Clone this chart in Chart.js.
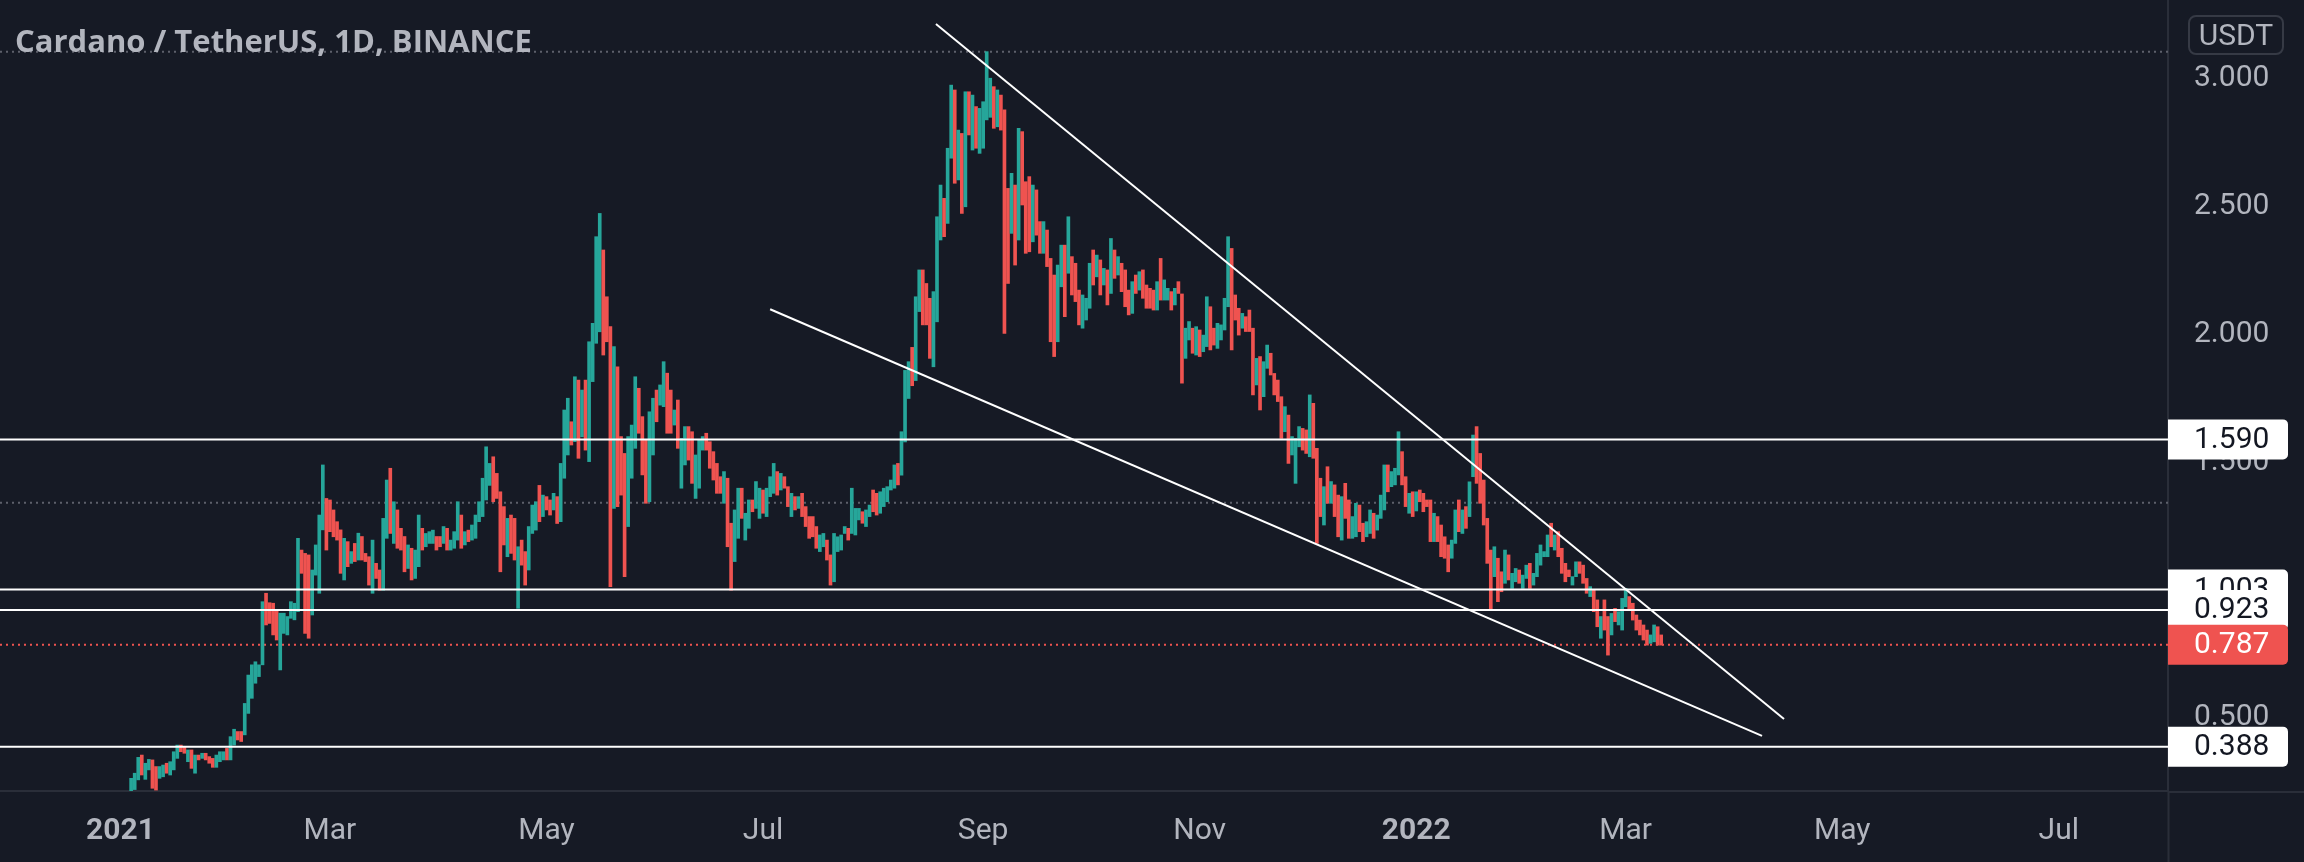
<!DOCTYPE html>
<html>
<head>
<meta charset="utf-8">
<title>Cardano / TetherUS, 1D, BINANCE</title>
<script src="https://cdn.jsdelivr.net/npm/chart.js@4.4.0/dist/chart.umd.min.js"></script>
<style>
  html, body { margin: 0; padding: 0; background: #161a25; }
  #wrap { position: relative; width: 2304px; height: 862px; overflow: hidden; }
  #title { position: absolute; left: 15px; top: 25px; font: 700 31px/1 "Open Sans", sans-serif; color: #b2b5be; white-space: nowrap; }
  #unit { position: absolute; left: 2188px; top: 15px; width: 92px; height: 36px; border: 2px solid #363a45; border-radius: 8px;
          font: 30px/36px Roboto, sans-serif; color: #b2b5be; text-align: center; }
</style>
</head>
<body>
<div id="wrap">
  <canvas id="chart" width="2304" height="862"></canvas>
  <div id="title">Cardano / TetherUS, 1D, BINANCE</div>
  <div id="unit">USDT</div>
</div>
<script>
// daily bars from 2021-01-01, one per day (index = days since start)
const startDate = '2021-01-01';

// G = close above open (green), R = close below open (red)
const dirs =
  'GGGGGGRGGR' + 'RGGRGGGRRG' + 'RGRGRRRGGG' + 'RGGRRGGGGG' + 'GRRRRGGGGG' +
  'GRRRGGGGRR' + 'RRRGRGRGRR' + 'RGRRGGRGRR' + 'RGRGGRGGGR' + 'RGRGGGRGRG' +
  'GGGGGRRRRG' + 'RRGRRGGGRG' + 'RRGRGGGRGR' + 'GRGGGGRRRG' + 'RRRGGGRRRG' +
  'GRGGRRGRGG' + 'RRGGGRRRRR' + 'GRRGGRGGRG' + 'GRGGGRGRRG' + 'RGRRRRRGGR' +
  'RGGGGRGGGR' + 'GGRRGGGGGR' + 'GGGRGGRRRG' + 'GGRGGRGRGR' + 'GRGGGGRGRR' +
  'RGRGRRRGRR' + 'GRRRGGRGRR' + 'RGGGRGRGRG' + 'RGRRRGRGRR' + 'RRGRGGRGRR' +
  'GGRGRGGRRG' + 'GGGRRRGRRR' + 'GRGGRRRRGR' + 'GGGRRGRRRG' + 'RGRRGRRGGR' +
  'RGGRGGGRGG' + 'GRRGRGRRRR' + 'GRRRRGGRGR' + 'GGRRRRRGRR' + 'GRGGRGGRGG' +
  'GGGRGRRRRG' + 'GRRRGRRGRR' + 'GRGGGRRRRR' + 'RGGRR';

const highs = [
  .184,.19,.212,.264,.284,.346,.355,.323,.338,.336,
  .31,.31,.316,.323,.329,.368,.394,.394,.388,.375,
  .375,.355,.355,.362,.362,.349,.342,.355,.368,.368,
  .381,.427,.456,.447,.447,.557,.668,.708,.72,.708,
  .955,.988,.951,.949,.923,.91,.91,.897,.955,.949,
  1.203,1.157,1.144,1.138,1.079,1.177,1.294,1.49,1.359,1.353,
  1.314,1.268,1.236,1.203,1.19,1.151,1.183,1.223,1.21,1.144,
  1.131,1.196,1.105,1.079,1.281,1.431,1.477,1.346,1.314,1.242,
  1.21,1.177,1.164,1.157,1.294,1.242,1.222,1.229,1.235,1.21,
  1.21,1.249,1.242,1.196,1.229,1.346,1.294,1.229,1.235,1.255,
  1.294,1.346,1.438,1.561,1.496,1.522,1.457,1.385,1.327,1.281,
  1.294,1.281,1.17,1.196,1.151,1.249,1.333,1.346,1.41,1.372,
  1.366,1.353,1.379,1.366,1.496,1.705,1.751,1.659,1.835,1.822,
  1.783,1.822,1.972,2.044,2.383,2.474,2.331,2.148,2.031,1.953,
  1.874,1.601,1.535,1.601,1.646,1.835,1.79,1.679,1.588,1.698,
  1.751,1.783,1.803,1.894,1.849,1.783,1.705,1.744,1.594,1.64,
  1.64,1.62,1.529,1.588,1.601,1.614,1.581,1.542,1.496,1.444,
  1.464,1.438,1.262,1.314,1.399,1.399,1.301,1.353,1.353,1.425,
  1.399,1.392,1.399,1.444,1.496,1.464,1.457,1.444,1.405,1.379,
  1.366,1.366,1.379,1.327,1.288,1.288,1.249,1.216,1.222,1.196,
  1.138,1.222,1.209,1.216,1.249,1.242,1.399,1.32,1.32,1.307,
  1.314,1.333,1.392,1.379,1.385,1.399,1.405,1.431,1.49,1.496,
  1.62,1.86,1.894,1.95,2.148,2.253,2.253,2.2,2.142,2.168,
  2.461,2.585,2.533,2.729,2.976,2.957,2.80,2.787,2.95,2.95,
  2.937,2.892,2.885,2.911,3.107,3.003,2.97,2.957,2.937,2.879,
  2.572,2.631,2.585,2.807,2.794,2.598,2.618,2.585,2.566,2.442,
  2.442,2.409,2.298,2.233,2.272,2.35,2.35,2.461,2.305,2.279,
  2.174,2.155,2.142,2.279,2.331,2.311,2.292,2.259,2.253,2.376,
  2.331,2.305,2.279,2.253,2.174,2.207,2.233,2.246,2.253,2.194,
  2.181,2.174,2.207,2.298,2.214,2.181,2.168,2.181,2.207,2.159,
  2.025,2.051,2.025,2.031,2.018,1.998,2.148,2.109,2.025,2.044,
  2.038,2.142,2.383,2.337,2.155,2.103,2.083,2.07,2.096,2.025,
  1.907,1.914,1.894,1.959,1.927,1.848,1.822,1.757,1.718,1.685,
  1.601,1.594,1.64,1.633,1.627,1.764,1.731,1.555,1.438,1.405,
  1.483,1.425,1.412,1.372,1.366,1.418,1.353,1.288,1.34,1.333,
  1.262,1.268,1.314,1.301,1.294,1.372,1.49,1.49,1.464,1.477,
  1.62,1.542,1.444,1.379,1.385,1.385,1.392,1.379,1.353,1.353,
  1.301,1.288,1.255,1.209,1.177,1.196,1.314,1.353,1.314,1.327,
  1.424,1.607,1.64,1.535,1.431,1.281,1.157,1.17,1.125,1.072,
  1.157,1.138,1.066,1.085,1.079,1.059,1.098,1.105,1.066,1.144,
  1.177,1.151,1.216,1.262,1.216,1.229,1.164,1.105,1.079,1.053,
  1.111,1.111,1.098,1.046,1.014,1.001,.962,.897,.962,.897,
  .909,.929,.916,.968,1.007,.975,.949,.903,.883,.864,
  .844,.825,.864,.857,.825
];

const lows = [
  .171,.172,.18,.20,.22,.258,.277,.26,.297,.225,
  .218,.264,.27,.284,.277,.297,.342,.368,.362,.329,
  .303,.284,.336,.342,.336,.323,.307,.307,.329,.336,
  .336,.336,.394,.414,.408,.434,.518,.577,.636,.662,
  .708,.864,.87,.825,.805,.688,.831,.825,.89,.884,
  .916,1.066,.831,.812,.903,1.059,.988,1.236,1.157,1.229,
  1.209,1.196,1.066,1.04,1.092,1.105,1.112,1.118,1.118,1.112,
  1.02,.988,1.046,1.0,1.0,1.203,1.222,1.183,1.164,1.157,
  1.072,1.085,1.04,1.046,1.092,1.157,1.17,1.183,1.183,1.157,
  1.17,1.183,1.157,1.157,1.164,1.196,1.164,1.177,1.19,1.196,
  1.203,1.268,1.288,1.353,1.41,1.346,1.359,1.072,1.177,1.131,
  1.144,1.118,.929,1.098,1.02,1.079,1.222,1.235,1.268,1.288,
  1.314,1.294,1.314,1.261,1.268,1.438,1.529,1.568,1.581,1.516,
  1.6,1.548,1.503,1.816,1.966,2.011,1.92,1.972,1.014,1.32,
  1.327,1.372,1.053,1.249,1.438,1.555,1.614,1.451,1.34,1.346,
  1.529,1.659,1.724,1.718,1.614,1.614,1.646,1.555,1.399,1.49,
  1.509,1.418,1.359,1.399,1.548,1.548,1.477,1.431,1.379,1.379,
  1.34,1.17,1.0,1.112,1.203,1.281,1.196,1.242,1.307,1.32,
  1.281,1.301,1.288,1.366,1.379,1.372,1.392,1.399,1.327,1.288,
  1.314,1.32,1.288,1.249,1.203,1.209,1.164,1.151,1.17,1.118,
  1.02,1.033,1.151,1.157,1.222,1.196,1.222,1.216,1.275,1.262,
  1.249,1.288,1.307,1.294,1.301,1.327,1.346,1.392,1.399,1.412,
  1.45,1.58,1.75,1.80,1.82,2.09,2.038,2.038,1.907,1.874,
  2.05,2.37,2.383,2.435,2.69,2.592,2.605,2.474,2.50,2.781,
  2.722,2.729,2.709,2.729,2.84,2.85,2.807,2.813,2.80,2.005,
  2.20,2.396,2.272,2.37,2.507,2.318,2.324,2.363,2.389,2.318,
  2.318,2.266,1.972,1.914,1.972,2.187,2.07,2.24,2.155,2.129,
  2.038,2.025,2.057,2.103,2.194,2.226,2.155,2.194,2.116,2.161,
  2.22,2.233,2.168,2.109,2.077,2.083,2.161,2.174,2.142,2.103,
  2.103,2.096,2.096,2.135,2.135,2.135,2.096,2.116,2.161,1.81,
  1.907,1.979,1.927,1.92,1.914,1.933,1.953,1.94,1.959,1.946,
  1.979,2.018,2.109,1.94,2.057,1.998,2.025,2.012,2.012,1.764,
  1.803,1.705,1.757,1.868,1.842,1.764,1.738,1.594,1.62,1.496,
  1.529,1.418,1.561,1.548,1.535,1.522,1.516,1.183,1.288,1.255,
  1.34,1.34,1.288,1.209,1.196,1.281,1.203,1.203,1.209,1.229,
  1.19,1.209,1.222,1.203,1.235,1.281,1.314,1.385,1.405,1.412,
  1.451,1.412,1.327,1.301,1.288,1.31,1.346,1.307,1.327,1.19,
  1.19,1.19,1.131,1.125,1.072,1.125,1.183,1.229,1.222,1.242,
  1.288,1.444,1.418,1.34,1.255,1.105,.922,1.053,.955,.994,
  1.027,1.04,1.007,1.033,1.027,1.007,1.046,1.007,1.02,1.053,
  1.098,1.131,1.131,1.17,1.157,1.131,1.066,1.033,1.053,1.02,
  1.053,1.066,1.027,.988,.975,.916,.857,.812,.844,.746,
  .825,.877,.864,.844,.935,.922,.883,.844,.825,.805,
  .785,.792,.798,.785,.785
];

// time axis
const tickDates = ['2021-01-01','2021-03-01','2021-05-01','2021-07-01','2021-09-01',
                   '2021-11-01','2022-01-01','2022-03-01','2022-05-01','2022-07-01'];
const tickLabels = ['2021','Mar','May','Jul','Sep','Nov','2022','Mar','May','Jul'];
const priceTicks = [0.5, 1.0, 1.5, 2.0, 2.5, 3.0];

// drawings: horizontal levels, last price, dotted range lines, wedge lines
const levels = [1.590, 1.003, 0.923, 0.388];
const lastPrice = 0.787;
const dottedLevels = [3.107, 1.342];
const upperTrend = [[229.7, 3.215], [468.6, 0.496]];   // [day, price]
const lowerTrend = [[183.0, 2.099], [462.4, 0.430]];

const GREEN = '#26a69a', RED = '#ef5350';
const X_MIN = -33.94, X_MAX = 576.76;
const Y_MIN = 0.2144, Y_MAX = 3.309;

const dayIndex = s => (Date.parse(s) - Date.parse(startDate)) / 86400000;
const tickDays = tickDates.map(dayIndex);

const bars = highs.map((h, i) => ({ x: i, y: [lows[i], h] }));
const barColors = highs.map((h, i) => dirs[i] === 'G' ? GREEN : RED);

const flatLine = v => [{ x: X_MIN, y: v }, { x: X_MAX, y: v }];
const datasets = [
  { type: 'bar', data: bars, backgroundColor: barColors, barThickness: 3, borderWidth: 0, order: 1 }
];
dottedLevels.forEach(v => datasets.push({
  type: 'line', data: flatLine(v), borderColor: '#5d606b', borderWidth: 2,
  borderDash: [2, 4], pointRadius: 0, order: 2
}));
datasets.push({
  type: 'line', data: flatLine(lastPrice), borderColor: RED, borderWidth: 2,
  borderDash: [2, 4], pointRadius: 0, order: 2
});
levels.forEach(v => datasets.push({
  type: 'line', data: flatLine(v), borderColor: '#ffffff', borderWidth: 2, pointRadius: 0, order: 0
}));
[upperTrend, lowerTrend].forEach(t => datasets.push({
  type: 'line', data: t.map(p => ({ x: p[0], y: p[1] })), borderColor: '#ffffff',
  borderWidth: 2, pointRadius: 0, order: 0
}));

// price tags on the right scale + axis frame
const priceTags = {
  id: 'priceTags',
  afterDraw(chart) {
    const { ctx, chartArea, scales: { y } } = chart;
    const right = chartArea.right;
    ctx.save();
    ctx.strokeStyle = '#2a2e39';
    ctx.lineWidth = 2;
    ctx.beginPath();
    ctx.moveTo(right + 0.5, chartArea.bottom);
    ctx.lineTo(right + 0.5, chart.height);
    ctx.moveTo(right, chartArea.bottom + 1);
    ctx.lineTo(chart.width, chartArea.bottom + 1);
    ctx.stroke();

    const tags = levels.map(v => ({ v, bg: '#ffffff', fg: '#131722' }));
    tags.push({ v: lastPrice, bg: RED, fg: '#ffffff' });
    tags.sort((a, b) => b.v - a.v);
    ctx.font = '30px Roboto';
    ctx.textBaseline = 'middle';
    ctx.textAlign = 'left';
    tags.forEach(t => {
      const py = y.getPixelForValue(t.v);
      ctx.fillStyle = t.bg;
      ctx.beginPath();
      ctx.roundRect(right, py - 20, 120, 40, [0, 5, 5, 0]);
      ctx.fill();
      ctx.fillStyle = t.fg;
      ctx.fillText(t.v.toFixed(3), right + 26, py + 1);
    });
    ctx.restore();
  }
};

new Chart(document.getElementById('chart'), {
  type: 'bar',
  data: { datasets },
  plugins: [priceTags],
  options: {
    responsive: false,
    animation: false,
    events: [],
    layout: { padding: 0 },
    plugins: { legend: { display: false }, tooltip: { enabled: false } },
    scales: {
      x: {
        type: 'linear', min: X_MIN, max: X_MAX, offset: false,
        grid: { display: false, drawTicks: false },
        border: { display: true, color: '#2a2e39', width: 2 },
        afterBuildTicks: s => { s.ticks = tickDays.map(v => ({ value: v })); },
        afterFit: s => { s.height = 71; s.paddingLeft = 0; s.paddingRight = 0; },
        ticks: {
          autoSkip: false, maxRotation: 0, padding: 22, color: '#b2b5be',
          callback: (v, i) => tickLabels[i],
          font: ctx => ({ family: 'Roboto', size: 30,
            weight: /^\d{4}$/.test(tickLabels[ctx.index]) ? 'bold' : 'normal' })
        }
      },
      y: {
        position: 'right', min: Y_MIN, max: Y_MAX,
        grid: { display: false, drawTicks: false },
        border: { display: true, color: '#2a2e39', width: 2 },
        afterBuildTicks: s => { s.ticks = priceTicks.map(v => ({ value: v })); },
        afterFit: s => { s.width = 136; s.paddingTop = 0; s.paddingBottom = 0; },
        ticks: {
          padding: 26, color: '#b2b5be', font: { family: 'Roboto', size: 30 },
          callback: v => v.toFixed(3)
        }
      }
    }
  }
});
</script>
</body>
</html>
